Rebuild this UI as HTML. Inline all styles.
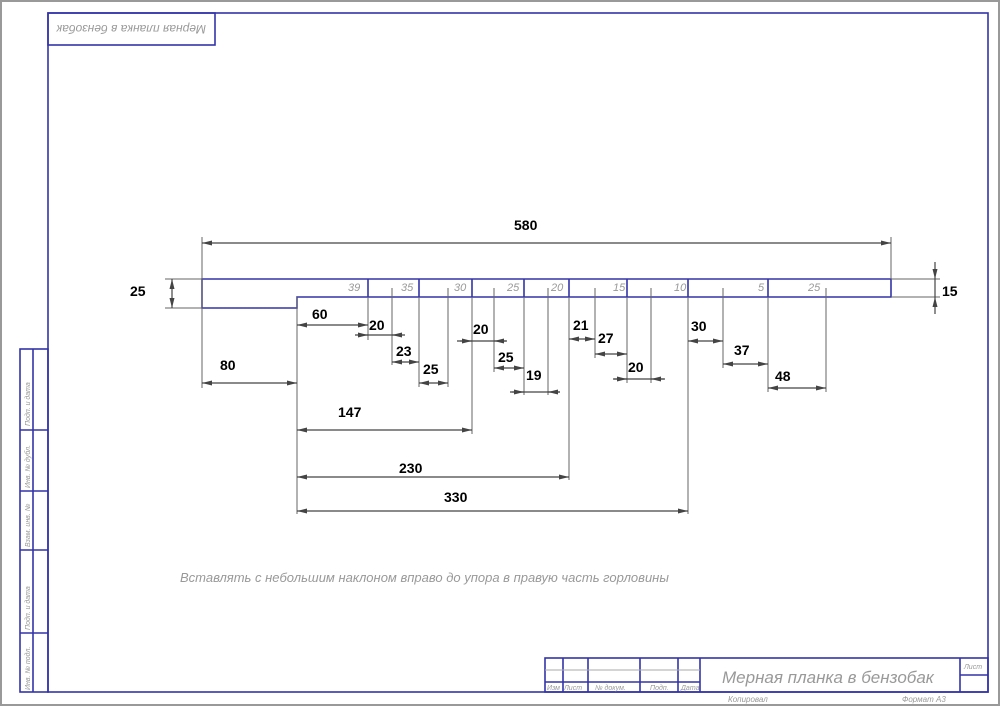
<!DOCTYPE html>
<html><head><meta charset="utf-8"><style>
html,body{margin:0;padding:0;background:#fff}
svg{display:block}
.b{font-family:"Liberation Sans",sans-serif;font-weight:bold;font-size:14px;fill:#000}
.it{font-family:"Liberation Sans","DejaVu Sans",sans-serif;font-style:italic;fill:#999}
</style></head><body>
<svg width="1000" height="706" viewBox="0 0 1000 706" xmlns="http://www.w3.org/2000/svg">
<defs>
<marker id="a" viewBox="0 0 10 6" refX="10" refY="3" markerWidth="10" markerHeight="6" orient="auto-start-reverse" markerUnits="userSpaceOnUse"><path d="M0,0.5L10,3L0,5.5z" fill="#444"/></marker>
</defs>
<rect x="1" y="1" width="998" height="704" fill="none" stroke="#999" stroke-width="2"/>
<g fill="none" stroke="#33a" stroke-width="1.6">
<rect x="48" y="13" width="940" height="679"/>
<rect x="48" y="13" width="167" height="32"/>
<rect x="20" y="349" width="28" height="343"/>
<line x1="33" y1="349" x2="33" y2="692"/>
<path d="M20 430H48M20 491H48M20 550H48M20 633H48"/>
<rect x="545" y="658" width="443" height="34"/>
<path d="M563 658V692M588 658V692M640 658V692M678 658V692M700 658V692M960 658V692M960 675H988M545 682H700"/>
<path d="M202 279H891V297H297V308H202Z"/>
<path d="M368 279V297M419 279V297M472 279V297M524 279V297M569 279V297M627 279V297M688 279V297M768 279V297"/>
</g>
<g stroke="#666" stroke-width="1" fill="none">
<path d="M545 670H700" stroke="#aaa"/>
<path d="M202 237V388M891 237V279M297 297V514M368 297V340M392 288V365M419 297V387M448 288V387M472 297V434M494 288V372M524 297V395M548 288V395M569 297V480M595 288V358M627 297V383M651 288V383M688 297V514M723 288V368M768 297V392M826 288V392"/>
<path d="M165 279H202M165 308H202M891 279H940M891 297H940"/>
</g>
<g stroke="#444" stroke-width="1.2" fill="none">
<line x1="202" y1="243" x2="891" y2="243" marker-start="url(#a)" marker-end="url(#a)"/>
<line x1="172" y1="279" x2="172" y2="308" marker-start="url(#a)" marker-end="url(#a)"/>
<line x1="935" y1="262" x2="935" y2="279" marker-end="url(#a)"/>
<line x1="935" y1="314" x2="935" y2="297" marker-end="url(#a)"/>
<line x1="935" y1="279" x2="935" y2="297"/>
<line x1="202" y1="383" x2="297" y2="383" marker-start="url(#a)" marker-end="url(#a)"/>
<line x1="297" y1="325" x2="368" y2="325" marker-start="url(#a)" marker-end="url(#a)"/>
<line x1="355" y1="335" x2="405" y2="335"/>
<line x1="358" y1="335" x2="368" y2="335" marker-end="url(#a)"/><line x1="402" y1="335" x2="392" y2="335" marker-end="url(#a)"/>
<line x1="392" y1="362" x2="419" y2="362" marker-start="url(#a)" marker-end="url(#a)"/>
<line x1="419" y1="383" x2="448" y2="383" marker-start="url(#a)" marker-end="url(#a)"/>
<line x1="457" y1="341" x2="507" y2="341"/>
<line x1="460" y1="341" x2="472" y2="341" marker-end="url(#a)"/><line x1="506" y1="341" x2="494" y2="341" marker-end="url(#a)"/>
<line x1="494" y1="368" x2="524" y2="368" marker-start="url(#a)" marker-end="url(#a)"/>
<line x1="510" y1="392" x2="560" y2="392"/>
<line x1="512" y1="392" x2="524" y2="392" marker-end="url(#a)"/><line x1="560" y1="392" x2="548" y2="392" marker-end="url(#a)"/>
<line x1="569" y1="339" x2="595" y2="339" marker-start="url(#a)" marker-end="url(#a)"/>
<line x1="595" y1="354" x2="627" y2="354" marker-start="url(#a)" marker-end="url(#a)"/>
<line x1="613" y1="379" x2="665" y2="379"/>
<line x1="614" y1="379" x2="627" y2="379" marker-end="url(#a)"/><line x1="664" y1="379" x2="651" y2="379" marker-end="url(#a)"/>
<line x1="688" y1="341" x2="723" y2="341" marker-start="url(#a)" marker-end="url(#a)"/>
<line x1="723" y1="364" x2="768" y2="364" marker-start="url(#a)" marker-end="url(#a)"/>
<line x1="768" y1="388" x2="826" y2="388" marker-start="url(#a)" marker-end="url(#a)"/>
<line x1="297" y1="430" x2="472" y2="430" marker-start="url(#a)" marker-end="url(#a)"/>
<line x1="297" y1="477" x2="569" y2="477" marker-start="url(#a)" marker-end="url(#a)"/>
<line x1="297" y1="511" x2="688" y2="511" marker-start="url(#a)" marker-end="url(#a)"/>
</g>
<g class="b">
<text x="514" y="230">580</text>
<text x="130" y="296">25</text>
<text x="942" y="296">15</text>
<text x="220" y="370">80</text>
<text x="312" y="319">60</text>
<text x="369" y="330">20</text>
<text x="396" y="356">23</text>
<text x="423" y="374">25</text>
<text x="473" y="334">20</text>
<text x="498" y="362">25</text>
<text x="526" y="380">19</text>
<text x="573" y="330">21</text>
<text x="598" y="343">27</text>
<text x="628" y="372">20</text>
<text x="691" y="331">30</text>
<text x="734" y="355">37</text>
<text x="775" y="381">48</text>
<text x="338" y="417">147</text>
<text x="399" y="473">230</text>
<text x="444" y="502">330</text>
</g>
<g class="it" font-size="11">
<text x="348" y="291">39</text><text x="401" y="291">35</text><text x="454" y="291">30</text>
<text x="507" y="291">25</text><text x="551" y="291">20</text><text x="613" y="291">15</text>
<text x="674" y="291">10</text><text x="758" y="291">5</text><text x="808" y="291">25</text>
</g>
<text class="it" x="58" y="33" font-size="12" fill="#666" transform="rotate(180 132 29)">Мерная планка в бензобак</text>
<text class="it" x="180" y="582" font-size="13">Вставлять с небольшим наклоном вправо до упора в правую часть горловины</text>
<text class="it" x="722" y="683" font-size="17" fill="#aaa">Мерная планка в бензобак</text>
<g class="it" font-size="7" fill="#555">
<text x="547" y="690">Изм</text><text x="564" y="690">Лист</text><text x="595" y="690">№ докум.</text><text x="650" y="690">Подп.</text><text x="681" y="690">Дата</text>
<text x="964" y="669">Лист</text>
</g>
<g class="it" font-size="8" fill="#666">
<text x="728" y="702">Копировал</text><text x="902" y="702">Формат  А3</text>
</g>
<g class="it" font-size="7" fill="#555">
<text transform="translate(30 426) rotate(-90)">Подп. и дата</text>
<text transform="translate(30 488) rotate(-90)">Инв. № дубл.</text>
<text transform="translate(30 547) rotate(-90)">Взам. инв. №</text>
<text transform="translate(30 630) rotate(-90)">Подп. и дата</text>
<text transform="translate(30 690) rotate(-90)">Инв. № подл.</text>
</g>
</svg>
</body></html>
